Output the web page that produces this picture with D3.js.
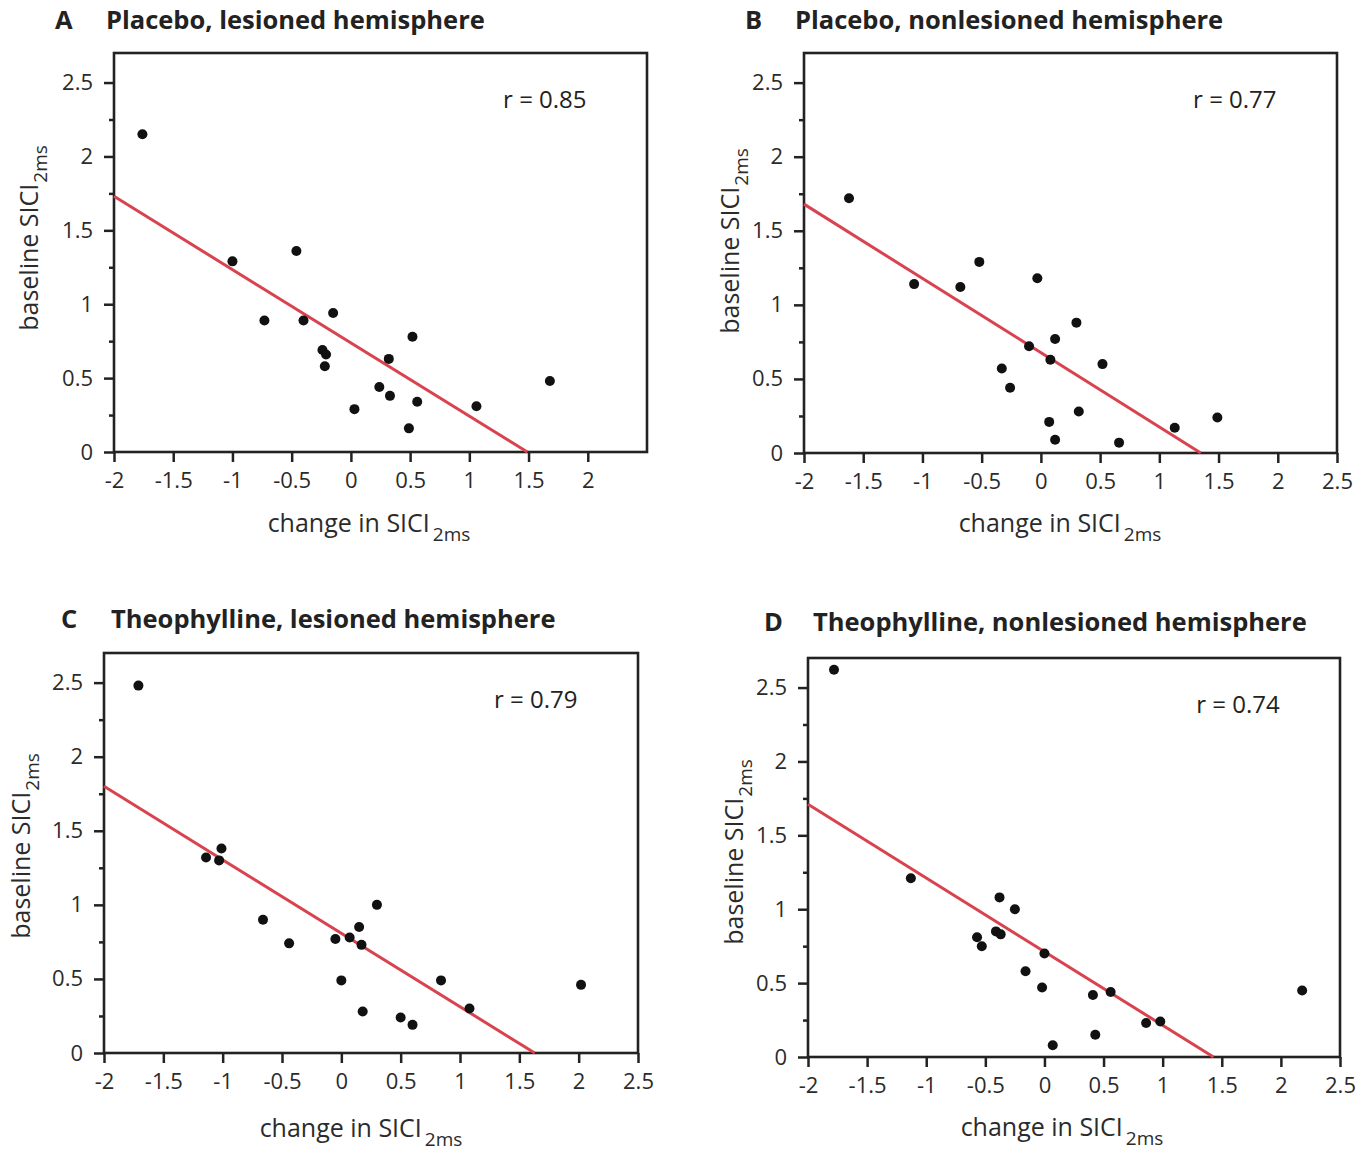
<!DOCTYPE html>
<html>
<head>
<meta charset="utf-8">
<script src="https://cdn.jsdelivr.net/npm/d3@7"></script>
<style>
  html, body { margin: 0; padding: 0; background: #fff; }
  svg { display: block; }
  text { font-family: "Open Sans", "DejaVu Sans", sans-serif; }
</style>
</head>
<body>
<svg id="chart" width="1364" height="1153"></svg>
<script>
// ---- data ----
const panelLetters = ["A", "B", "C", "D"];
const panelTitles = [
  "Placebo, lesioned hemisphere",
  "Placebo, nonlesioned hemisphere",
  "Theophylline, lesioned hemisphere",
  "Theophylline, nonlesioned hemisphere"
];
const rLabels = ["r = 0.85", "r = 0.77", "r = 0.79", "r = 0.74"];

// change in SICI 2ms (x) and baseline SICI 2ms (y), one pair of arrays per panel
const changeA   = [-1.76, -1.00, -0.46, -0.73, -0.40, -0.15, -0.24, -0.21, -0.22, 0.52, 0.32, 0.24, 0.33, 0.56, 0.03, 0.49, 1.06, 1.68];
const baselineA = [ 2.15,  1.29,  1.36,  0.89,  0.89,  0.94,  0.69,  0.66,  0.58, 0.78, 0.63, 0.44, 0.38, 0.34, 0.29, 0.16, 0.31, 0.48];

const changeB   = [-1.62, -1.07, -0.68, -0.52, -0.03, 0.30, 0.12, -0.10, 0.08, -0.33, -0.26, 0.52, 0.07, 0.32, 0.12, 0.66, 1.13, 1.49];
const baselineB = [ 1.72,  1.14,  1.12,  1.29,  1.18, 0.88, 0.77,  0.72, 0.63,  0.57,  0.44, 0.60, 0.21, 0.28, 0.09, 0.07, 0.17, 0.24];

const changeC   = [-1.71, -1.14, -1.01, -1.03, -0.66, -0.44, 0.30, 0.15, -0.05, 0.07, 0.17, 0.00, 0.84, 0.18, 0.50, 0.60, 1.08, 2.02];
const baselineC = [ 2.48,  1.32,  1.38,  1.30,  0.90,  0.74, 1.00, 0.85,  0.77, 0.78, 0.73, 0.49, 0.49, 0.28, 0.24, 0.19, 0.30, 0.46];

const changeD   = [-1.78, -1.13, -0.38, -0.25, -0.41, -0.37, -0.57, -0.53, 0.00, -0.16, -0.02, 0.41, 0.56, 0.86, 0.98, 0.43, 0.07, 2.18];
const baselineD = [ 2.62,  1.21,  1.08,  1.00,  0.85,  0.83,  0.81,  0.75, 0.70,  0.58,  0.47, 0.42, 0.44, 0.23, 0.24, 0.15, 0.08, 0.45];

// regression line end points [x, y]
const fitLineA = [[-2, 1.73], [1.49, 0]];
const fitLineB = [[-2, 1.68], [1.35, 0]];
const fitLineC = [[-2, 1.80], [1.63, 0]];
const fitLineD = [[-2, 1.71], [1.43, 0]];

// axis ticks
const xTicksShort = ["-2", "-1.5", "-1", "-0.5", "0", "0.5", "1", "1.5", "2"];
const xTicksLong  = ["-2", "-1.5", "-1", "-0.5", "0", "0.5", "1", "1.5", "2", "2.5"];
const yTicks      = ["0", "0.5", "1", "1.5", "2", "2.5"];
const yMinorTicks = [0.25, 0.75, 1.25, 1.75, 2.25];
const xDomain = [-2, 2.5];
const yDomain = [0, 2.7];

const panelX = [changeA, changeB, changeC, changeD];
const panelY = [baselineA, baselineB, baselineC, baselineD];
const panelFit = [fitLineA, fitLineB, fitLineC, fitLineD];
const panelXTicks = [xTicksShort, xTicksLong, xTicksLong, xTicksLong];

// ---- layout (frame boxes and text anchors) ----
const frames = [
  { left: 114, right: 647, top: 53,  bottom: 452 },
  { left: 804, right: 1337, top: 53,  bottom: 453 },
  { left: 104, right: 638, top: 653, bottom: 1053 },
  { left: 808, right: 1340, top: 658, bottom: 1057 }
];
const titlePos = [
  { letterX: 55,  textX: 106, y: 29 },
  { letterX: 745, textX: 795, y: 29 },
  { letterX: 61,  textX: 111, y: 628 },
  { letterX: 764, textX: 813, y: 631 }
];
const xTitlePos = [ { x: 369, y: 532 }, { x: 1060, y: 532 }, { x: 361, y: 1137 }, { x: 1062, y: 1136 } ];
const yTitlePos = [ { x: 38, y: 238 }, { x: 739, y: 241 }, { x: 30, y: 846 }, { x: 743, y: 852 } ];

const svg = d3.select("#chart");
const ink = "#222";
const red = "#d8434f";

panelLetters.forEach((letter, i) => {
  const f = frames[i];
  const x = d3.scaleLinear().domain(xDomain).range([f.left, f.right]);
  const y = d3.scaleLinear().domain(yDomain).range([f.bottom, f.top]);
  const g = svg.append("g");

  // panel heading
  g.append("text")
    .attr("x", titlePos[i].letterX).attr("y", titlePos[i].y)
    .attr("font-size", 25.5).attr("font-weight", 700).attr("fill", ink)
    .text(letter);
  g.append("text")
    .attr("x", titlePos[i].textX).attr("y", titlePos[i].y)
    .attr("font-size", 25.5).attr("font-weight", 700).attr("fill", ink)
    .text(panelTitles[i]);

  // axes
  const xLabels = panelXTicks[i];
  const xAxis = d3.axisBottom(x)
    .tickValues(xLabels.map(Number))
    .tickFormat((d, k) => xLabels[k])
    .tickSize(10).tickPadding(10);
  const gx = g.append("g").attr("transform", `translate(0,${f.bottom})`).call(xAxis);

  const yAxis = d3.axisLeft(y)
    .tickValues(yTicks.map(Number))
    .tickFormat((d, k) => yTicks[k])
    .tickSize(10).tickPadding(11);
  const gy = g.append("g").attr("transform", `translate(${f.left},0)`).call(yAxis);

  const yMinor = d3.axisLeft(y).tickValues(yMinorTicks).tickFormat("").tickSize(5);
  const gm = g.append("g").attr("transform", `translate(${f.left},0)`).call(yMinor);

  [gx, gy, gm].forEach(a => {
    a.select(".domain").remove();
    a.selectAll(".tick line").attr("stroke", ink).attr("stroke-width", 2.5);
    a.selectAll(".tick text")
      .attr("font-family", "'Open Sans', sans-serif")
      .attr("font-size", 22).attr("fill", "#2b2b2b");
  });

  // frame
  g.append("rect")
    .attr("x", f.left).attr("y", f.top)
    .attr("width", f.right - f.left).attr("height", f.bottom - f.top)
    .attr("fill", "none").attr("stroke", ink).attr("stroke-width", 2.6);

  // regression line
  g.append("path")
    .datum(panelFit[i])
    .attr("d", d3.line().x(d => x(d[0])).y(d => y(d[1])))
    .attr("fill", "none").attr("stroke", red).attr("stroke-width", 3);

  // points
  const pts = panelX[i].map((v, k) => [v, panelY[i][k]]);
  g.selectAll("circle.pt").data(pts).join("circle")
    .attr("class", "pt")
    .attr("cx", d => x(d[0])).attr("cy", d => y(d[1]))
    .attr("r", 5).attr("fill", "#111");

  // correlation label
  g.append("text")
    .attr("x", x(1.99)).attr("y", y(2.38) + 8)
    .attr("text-anchor", "end")
    .attr("font-size", 24).attr("fill", ink)
    .text(rLabels[i]);

  // x axis title
  const xt = g.append("text")
    .attr("x", xTitlePos[i].x).attr("y", xTitlePos[i].y)
    .attr("text-anchor", "middle")
    .attr("font-size", 25).attr("fill", "#2b2b2b");
  xt.append("tspan").text("change in SICI");
  xt.append("tspan").attr("dx", 3).attr("dy", 9).attr("font-size", 19).text("2ms");

  // y axis title
  const yt = g.append("text")
    .attr("transform", `translate(${yTitlePos[i].x},${yTitlePos[i].y}) rotate(-90)`)
    .attr("text-anchor", "middle")
    .attr("font-size", 25).attr("fill", "#2b2b2b");
  yt.append("tspan").text("baseline SICI");
  yt.append("tspan").attr("dx", 1).attr("dy", 9).attr("font-size", 19).text("2ms");
});
</script>
</body>
</html>
